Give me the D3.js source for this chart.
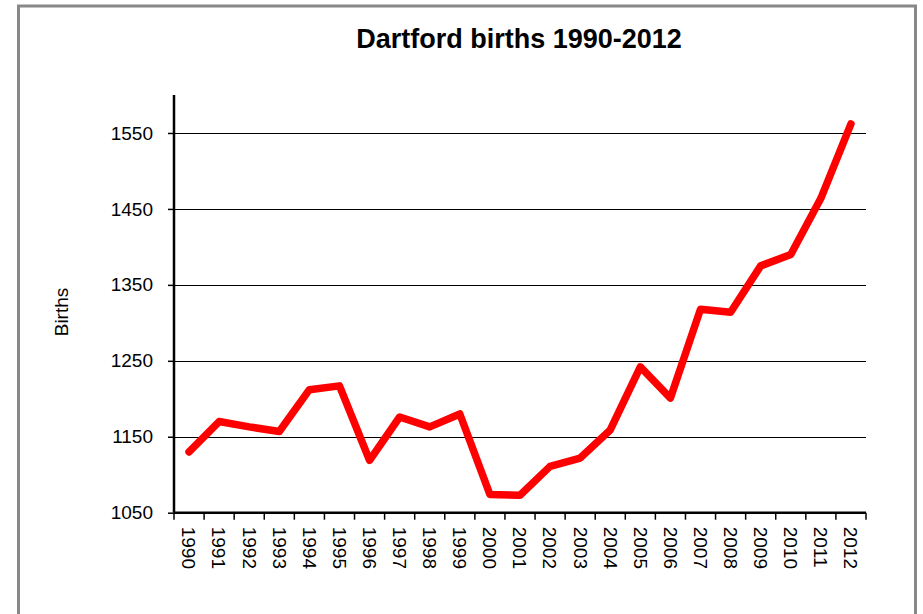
<!DOCTYPE html>
<html>
<head>
<meta charset="utf-8">
<script src="https://cdn.jsdelivr.net/npm/d3@7/dist/d3.min.js"></script>
<style>
  html, body { margin: 0; padding: 0; background: #fff; }
  svg { display: block; }
  text { font-family: "Liberation Sans", Arial, sans-serif; fill: #000; }
</style>
</head>
<body>
<svg id="chart" width="923" height="614"></svg>
<script>
const years = ["1990","1991","1992","1993","1994","1995","1996","1997","1998","1999","2000","2001","2002","2003","2004","2005","2006","2007","2008","2009","2010","2011","2012"];
const births = [1130,1170,1163,1157,1212,1217,1119,1176,1163,1180,1074,1073,1111,1122,1159,1242,1201,1318,1314,1375,1390,1464,1562];
const yTicks = [1050,1150,1250,1350,1450,1550];
const yDomain = [1050,1600];
const title = "Dartford births 1990-2012";
const yLabel = "Births";

(function () {
const svg = d3.select("#chart");
const pL = 174, pR = 866, pT = 95, pB = 512.7;

// frame
svg.append("rect").attr("x", 18.5).attr("y", 6).attr("width", 897).attr("height", 700)
  .attr("fill", "none").attr("stroke", "#888").attr("stroke-width", 3);

const x = d3.scaleBand().domain(years).range([pL, pR]).padding(0);
const y = d3.scaleLinear().domain(yDomain).range([pB, pT]);

// gridlines
svg.append("g").selectAll("line").data(yTicks.slice(1)).join("line")
  .attr("x1", pL).attr("x2", pR)
  .attr("y1", d => Math.round(y(d)) + 0.5).attr("y2", d => Math.round(y(d)) + 0.5)
  .attr("stroke", "#000").attr("stroke-width", 1);

// y axis
const yAxis = d3.axisLeft(y).tickValues(yTicks).tickSize(6).tickPadding(15).tickFormat(d3.format("d"));
const gy = svg.append("g").attr("transform", `translate(${pL},0)`).call(yAxis);
gy.select(".domain").attr("stroke", "#000").attr("stroke-width", 2.5)
  .attr("d", `M0,${pT}V${pB}`);
gy.selectAll(".tick line").attr("stroke", "#000").attr("stroke-width", 1.5);
gy.selectAll(".tick text").style("font-family", "Liberation Sans, Arial, sans-serif").style("font-size", "19px").attr("fill", "#000");

// x axis
const xAxis = d3.axisBottom(x).tickSize(0).tickSizeOuter(0);
const gx = svg.append("g").attr("transform", `translate(0,${pB})`).call(xAxis);
gx.select(".domain").attr("stroke", "#000").attr("stroke-width", 2.5)
  .attr("d", `M${pL},0H${pR}`);
gx.selectAll(".tick text")
  .style("font-family", "Liberation Sans, Arial, sans-serif").style("font-size", "19px").attr("fill", "#000")
  .attr("text-anchor", "start")
  .attr("transform", "rotate(90)")
  .attr("x", 14).attr("y", 0).attr("dy", "0.35em");
// boundary tick marks between categories
const bounds = years.map(d => x(d)).concat([pR]);
gx.append("g").selectAll("line").data(bounds).join("line")
  .attr("x1", d => d).attr("x2", d => d).attr("y1", 0).attr("y2", 7)
  .attr("stroke", "#000").attr("stroke-width", 1.5);

// line
const line = d3.line().x((d, i) => x(years[i]) + x.bandwidth() / 2).y(d => y(d));
svg.append("path").datum(births).attr("d", line)
  .attr("fill", "none").attr("stroke", "#ff0000").attr("stroke-width", 7.5)
  .attr("stroke-linejoin", "round").attr("stroke-linecap", "round");

// title
svg.append("text").attr("x", 519).attr("y", 48).attr("text-anchor", "middle")
  .style("font-size", "27px").style("font-weight", "bold").text(title);

// y label
svg.append("text").attr("transform", "translate(68,312) rotate(-90)").attr("text-anchor", "middle")
  .style("font-size", "19px").text(yLabel);
})();
</script>
</body>
</html>
